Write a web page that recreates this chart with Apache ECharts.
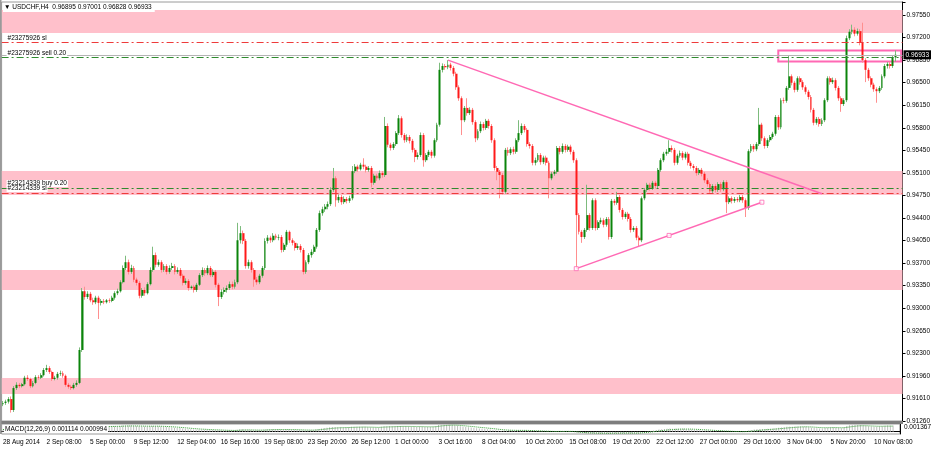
<!DOCTYPE html>
<html>
<head>
<meta charset="utf-8">
<title>USDCHF,H4</title>
<script src="https://cdn.jsdelivr.net/npm/echarts@6/dist/echarts.min.js"></script>
<style>
  html, body { margin: 0; padding: 0; background: #fff; }
  #chart { width: 934px; height: 450px; }
</style>
</head>
<body>
<div id="chart"></div>
<script>
// USDCHF H4 bars, 28 Aug 2014 20:00 .. 11 Nov 2014 12:00
// each bar: [open, close, low, high]
const weekAug28 = [
  [0.9152,0.9154,0.9149,0.9157],[0.9154,0.9156,0.9151,0.9159],[0.9156,0.9160,0.9153,0.9163],[0.9160,0.9143,0.9139,0.9164],
  [0.9143,0.9177,0.9140,0.9180],[0.9177,0.9182,0.9174,0.9186],[0.9182,0.9180,0.9177,0.9185]
]
const weekSep01 = [
  [0.9180,0.9183,0.9178,0.9185],[0.9183,0.9193,0.9181,0.9196],[0.9193,0.9191,0.9188,0.9197],[0.9191,0.9180,0.9177,0.9193],
  [0.9180,0.9185,0.9178,0.9188],[0.9185,0.9194,0.9183,0.9197],[0.9194,0.9193,0.9190,0.9197],[0.9193,0.9197,0.9191,0.9200],
  [0.9197,0.9205,0.9195,0.9208],[0.9205,0.9208,0.9202,0.9213],[0.9208,0.9202,0.9199,0.9211],[0.9202,0.9191,0.9188,0.9204],
  [0.9191,0.9193,0.9189,0.9196],[0.9193,0.9199,0.9190,0.9202],[0.9199,0.9200,0.9196,0.9204],[0.9200,0.9196,0.9193,0.9203],
  [0.9196,0.9182,0.9179,0.9198],[0.9182,0.9179,0.9176,0.9185],[0.9179,0.9177,0.9174,0.9182],[0.9177,0.9182,0.9175,0.9185],
  [0.9182,0.9185,0.9179,0.9189],[0.9185,0.9236,0.9183,0.9240],[0.9236,0.9327,0.9233,0.9332],[0.9327,0.9318,0.9314,0.9334],
  [0.9318,0.9323,0.9315,0.9327],[0.9323,0.9313,0.9310,0.9326],[0.9313,0.9310,0.9306,0.9317],[0.9310,0.9317,0.9307,0.9320],
  [0.9317,0.9309,0.9284,0.9320],[0.9309,0.9312,0.9305,0.9315],[0.9312,0.9310,0.9307,0.9315]
]
const weekSep08 = [
  [0.9310,0.9313,0.9308,0.9315],[0.9313,0.9312,0.9309,0.9316],[0.9312,0.9317,0.9310,0.9320],[0.9317,0.9324,0.9314,0.9327],
  [0.9324,0.9327,0.9321,0.9331],[0.9327,0.9341,0.9325,0.9344],[0.9341,0.9363,0.9339,0.9367],[0.9363,0.9372,0.9360,0.9382],
  [0.9372,0.9357,0.9353,0.9376],[0.9357,0.9363,0.9354,0.9368],[0.9363,0.9345,0.9341,0.9366],[0.9345,0.9340,0.9336,0.9348],
  [0.9340,0.9320,0.9316,0.9343],[0.9320,0.9329,0.9317,0.9332],[0.9329,0.9324,0.9320,0.9333],[0.9324,0.9338,0.9322,0.9341],
  [0.9338,0.9360,0.9336,0.9364],[0.9360,0.9383,0.9357,0.9396],[0.9383,0.9368,0.9364,0.9387],[0.9368,0.9372,0.9365,0.9376],
  [0.9372,0.9360,0.9356,0.9375],[0.9360,0.9366,0.9357,0.9369],[0.9366,0.9357,0.9353,0.9369],[0.9357,0.9363,0.9354,0.9367],
  [0.9363,0.9366,0.9360,0.9371],[0.9366,0.9357,0.9353,0.9369],[0.9357,0.9360,0.9354,0.9364],[0.9360,0.9351,0.9347,0.9363],
  [0.9351,0.9340,0.9336,0.9354],[0.9340,0.9343,0.9337,0.9347],[0.9343,0.9332,0.9328,0.9346]
]
const weekSep15 = [
  [0.9332,0.9334,0.9330,0.9336],[0.9334,0.9329,0.9325,0.9337],[0.9329,0.9337,0.9326,0.9340],[0.9337,0.9352,0.9335,0.9355],
  [0.9352,0.9360,0.9349,0.9364],[0.9360,0.9355,0.9351,0.9363],[0.9355,0.9363,0.9352,0.9367],[0.9363,0.9352,0.9349,0.9366],
  [0.9352,0.9357,0.9349,0.9361],[0.9357,0.9337,0.9333,0.9360],[0.9337,0.9318,0.9304,0.9340],[0.9318,0.9326,0.9315,0.9330],
  [0.9326,0.9329,0.9322,0.9333],[0.9329,0.9332,0.9325,0.9336],[0.9332,0.9338,0.9329,0.9342],[0.9338,0.9334,0.9330,0.9342],
  [0.9334,0.9341,0.9331,0.9345],[0.9341,0.9406,0.9338,0.9433],[0.9406,0.9417,0.9401,0.9428],[0.9417,0.9405,0.9400,0.9421],
  [0.9405,0.9366,0.9362,0.9408],[0.9366,0.9372,0.9362,0.9376],[0.9372,0.9360,0.9356,0.9375],[0.9360,0.9345,0.9334,0.9363],
  [0.9345,0.9341,0.9337,0.9349],[0.9341,0.9351,0.9338,0.9354],[0.9351,0.9363,0.9348,0.9366],[0.9363,0.9405,0.9360,0.9409],
  [0.9405,0.9410,0.9401,0.9414],[0.9410,0.9406,0.9402,0.9413],[0.9406,0.9413,0.9403,0.9417]
]
const weekSep22 = [
  [0.9413,0.9410,0.9407,0.9416],[0.9410,0.9411,0.9406,0.9415],[0.9411,0.9391,0.9387,0.9414],[0.9391,0.9399,0.9388,0.9402],
  [0.9399,0.9419,0.9396,0.9422],[0.9419,0.9406,0.9402,0.9421],[0.9406,0.9402,0.9398,0.9409],[0.9402,0.9394,0.9390,0.9405],
  [0.9394,0.9397,0.9391,0.9401],[0.9397,0.9391,0.9387,0.9400],[0.9391,0.9357,0.9353,0.9394],[0.9357,0.9372,0.9354,0.9375],
  [0.9372,0.9383,0.9369,0.9386],[0.9383,0.9388,0.9379,0.9392],[0.9388,0.9396,0.9385,0.9399],[0.9396,0.9422,0.9393,0.9425],
  [0.9422,0.9448,0.9419,0.9452],[0.9448,0.9454,0.9444,0.9458],[0.9454,0.9458,0.9450,0.9462],[0.9458,0.9462,0.9454,0.9466],
  [0.9462,0.9484,0.9459,0.9488],[0.9484,0.9502,0.9481,0.9518],[0.9502,0.9468,0.9458,0.9505],[0.9468,0.9473,0.9464,0.9477],
  [0.9473,0.9465,0.9461,0.9476],[0.9465,0.9470,0.9462,0.9474],[0.9470,0.9467,0.9463,0.9473],[0.9467,0.9471,0.9464,0.9475],
  [0.9471,0.9513,0.9468,0.9521],[0.9513,0.9520,0.9510,0.9524],[0.9520,0.9516,0.9512,0.9523]
]
const weekSep29 = [
  [0.9516,0.9523,0.9514,0.9526],[0.9523,0.9520,0.9516,0.9533],[0.9520,0.9515,0.9511,0.9523],[0.9515,0.9518,0.9512,0.9521],
  [0.9518,0.9495,0.9488,0.9521],[0.9495,0.9506,0.9492,0.9509],[0.9506,0.9502,0.9498,0.9509],[0.9502,0.9510,0.9499,0.9514],
  [0.9510,0.9507,0.9503,0.9513],[0.9507,0.9583,0.9504,0.9597],[0.9583,0.9554,0.9550,0.9587],[0.9554,0.9549,0.9545,0.9557],
  [0.9549,0.9555,0.9546,0.9558],[0.9555,0.9572,0.9552,0.9575],[0.9572,0.9595,0.9569,0.9600],[0.9595,0.9569,0.9565,0.9598],
  [0.9569,0.9561,0.9557,0.9572],[0.9561,0.9566,0.9558,0.9570],[0.9566,0.9560,0.9556,0.9569],[0.9560,0.9546,0.9542,0.9563],
  [0.9546,0.9535,0.9527,0.9549],[0.9535,0.9538,0.9531,0.9542],[0.9538,0.9569,0.9535,0.9573],[0.9569,0.9530,0.9520,0.9572],
  [0.9530,0.9538,0.9527,0.9541],[0.9538,0.9543,0.9535,0.9546],[0.9543,0.9537,0.9533,0.9546],[0.9537,0.9561,0.9534,0.9564],
  [0.9561,0.9585,0.9558,0.9588],[0.9585,0.9670,0.9582,0.9681],[0.9670,0.9676,0.9666,0.9680]
]
const weekOct06 = [
  [0.9676,0.9674,0.9670,0.9679],[0.9674,0.9678,0.9671,0.9685],[0.9678,0.9673,0.9669,0.9681],[0.9673,0.9664,0.9660,0.9676],
  [0.9664,0.9643,0.9639,0.9667],[0.9643,0.9626,0.9622,0.9646],[0.9626,0.9592,0.9569,0.9629],[0.9592,0.9611,0.9589,0.9614],
  [0.9611,0.9603,0.9599,0.9626],[0.9603,0.9608,0.9600,0.9612],[0.9608,0.9589,0.9585,0.9611],[0.9589,0.9564,0.9558,0.9592],
  [0.9564,0.9575,0.9561,0.9578],[0.9575,0.9586,0.9572,0.9590],[0.9586,0.9580,0.9576,0.9589],[0.9580,0.9591,0.9577,0.9594],
  [0.9591,0.9583,0.9579,0.9594],[0.9583,0.9561,0.9557,0.9586],[0.9561,0.9518,0.9514,0.9564],[0.9518,0.9512,0.9499,0.9521],
  [0.9512,0.9507,0.9471,0.9515],[0.9507,0.9481,0.9477,0.9510],[0.9481,0.9546,0.9478,0.9549],[0.9546,0.9541,0.9537,0.9550],
  [0.9541,0.9547,0.9538,0.9550],[0.9547,0.9543,0.9539,0.9551],[0.9543,0.9561,0.9540,0.9564],[0.9561,0.9572,0.9558,0.9592],
  [0.9572,0.9583,0.9569,0.9587],[0.9583,0.9577,0.9573,0.9586],[0.9577,0.9555,0.9551,0.9580]
]
const weekOct13 = [
  [0.9555,0.9552,0.9548,0.9558],[0.9552,0.9526,0.9522,0.9555],[0.9526,0.9530,0.9522,0.9534],[0.9530,0.9538,0.9527,0.9541],
  [0.9538,0.9527,0.9523,0.9541],[0.9527,0.9534,0.9524,0.9537],[0.9534,0.9526,0.9522,0.9537],[0.9526,0.9502,0.9471,0.9529],
  [0.9502,0.9509,0.9499,0.9512],[0.9509,0.9512,0.9506,0.9515],[0.9512,0.9549,0.9509,0.9552],[0.9549,0.9543,0.9539,0.9552],
  [0.9543,0.9552,0.9540,0.9556],[0.9552,0.9546,0.9542,0.9555],[0.9546,0.9551,0.9543,0.9554],[0.9551,0.9543,0.9539,0.9554],
  [0.9543,0.9530,0.9526,0.9546],[0.9530,0.9445,0.9362,0.9533],[0.9445,0.9419,0.9415,0.9448],[0.9419,0.9411,0.9402,0.9422],
  [0.9411,0.9422,0.9408,0.9425],[0.9422,0.9445,0.9419,0.9492],[0.9445,0.9425,0.9421,0.9448],[0.9425,0.9468,0.9422,0.9471],
  [0.9468,0.9425,0.9421,0.9471],[0.9425,0.9434,0.9422,0.9437],[0.9434,0.9437,0.9431,0.9441],[0.9437,0.9430,0.9426,0.9440],
  [0.9430,0.9439,0.9427,0.9442],[0.9439,0.9411,0.9407,0.9442],[0.9411,0.9467,0.9408,0.9470]
]
const weekOct20 = [
  [0.9467,0.9464,0.9460,0.9470],[0.9464,0.9473,0.9461,0.9481],[0.9473,0.9453,0.9449,0.9476],[0.9453,0.9442,0.9438,0.9456],
  [0.9442,0.9447,0.9439,0.9450],[0.9447,0.9439,0.9435,0.9450],[0.9439,0.9422,0.9418,0.9442],[0.9422,0.9425,0.9419,0.9428],
  [0.9425,0.9410,0.9406,0.9428],[0.9410,0.9406,0.9396,0.9413],[0.9406,0.9471,0.9403,0.9474],[0.9471,0.9484,0.9468,0.9487],
  [0.9484,0.9492,0.9481,0.9495],[0.9492,0.9487,0.9483,0.9495],[0.9487,0.9495,0.9484,0.9498],[0.9495,0.9490,0.9486,0.9498],
  [0.9490,0.9515,0.9487,0.9518],[0.9515,0.9530,0.9512,0.9533],[0.9530,0.9540,0.9527,0.9543],[0.9540,0.9543,0.9537,0.9547],
  [0.9543,0.9549,0.9540,0.9561],[0.9549,0.9546,0.9542,0.9553],[0.9546,0.9526,0.9522,0.9549],[0.9526,0.9537,0.9523,0.9540],
  [0.9537,0.9541,0.9534,0.9545],[0.9541,0.9534,0.9530,0.9544],[0.9534,0.9540,0.9531,0.9543],[0.9540,0.9526,0.9522,0.9543],
  [0.9526,0.9521,0.9517,0.9529],[0.9521,0.9518,0.9514,0.9524],[0.9518,0.9510,0.9506,0.9521]
]
const weekOct27 = [
  [0.9510,0.9515,0.9507,0.9518],[0.9515,0.9509,0.9505,0.9518],[0.9509,0.9499,0.9495,0.9512],[0.9499,0.9493,0.9489,0.9502],
  [0.9493,0.9482,0.9478,0.9496],[0.9482,0.9490,0.9479,0.9493],[0.9490,0.9484,0.9480,0.9493],[0.9484,0.9493,0.9481,0.9496],
  [0.9493,0.9485,0.9481,0.9496],[0.9485,0.9496,0.9482,0.9499],[0.9496,0.9465,0.9448,0.9499],[0.9465,0.9471,0.9462,0.9474],
  [0.9471,0.9467,0.9463,0.9474],[0.9467,0.9470,0.9464,0.9473],[0.9470,0.9468,0.9465,0.9473],[0.9468,0.9473,0.9465,0.9476],
  [0.9473,0.9468,0.9464,0.9476],[0.9468,0.9456,0.9442,0.9471],[0.9456,0.9544,0.9453,0.9547],[0.9544,0.9552,0.9541,0.9555],
  [0.9552,0.9547,0.9543,0.9555],[0.9547,0.9555,0.9544,0.9558],[0.9555,0.9585,0.9552,0.9611],[0.9585,0.9564,0.9560,0.9588],
  [0.9564,0.9552,0.9548,0.9567],[0.9552,0.9561,0.9549,0.9564],[0.9561,0.9566,0.9558,0.9569],[0.9566,0.9571,0.9563,0.9574],
  [0.9571,0.9597,0.9568,0.9600],[0.9597,0.9581,0.9577,0.9600],[0.9581,0.9623,0.9578,0.9626]
]
const weekNov03 = [
  [0.9623,0.9622,0.9618,0.9627],[0.9622,0.9642,0.9619,0.9645],[0.9642,0.9660,0.9639,0.9693],[0.9660,0.9650,0.9646,0.9663],
  [0.9650,0.9639,0.9635,0.9653],[0.9639,0.9657,0.9636,0.9660],[0.9657,0.9651,0.9647,0.9660],[0.9651,0.9643,0.9639,0.9654],
  [0.9643,0.9636,0.9632,0.9646],[0.9636,0.9628,0.9624,0.9639],[0.9628,0.9608,0.9604,0.9631],[0.9608,0.9588,0.9584,0.9611],
  [0.9588,0.9594,0.9585,0.9597],[0.9594,0.9586,0.9582,0.9597],[0.9586,0.9592,0.9583,0.9595],[0.9592,0.9623,0.9589,0.9626],
  [0.9623,0.9657,0.9620,0.9660],[0.9657,0.9651,0.9647,0.9660],[0.9651,0.9654,0.9648,0.9658],[0.9654,0.9642,0.9638,0.9657],
  [0.9642,0.9626,0.9622,0.9645],[0.9626,0.9617,0.9605,0.9629],[0.9617,0.9623,0.9614,0.9626],[0.9623,0.9719,0.9620,0.9723],
  [0.9719,0.9729,0.9716,0.9733],[0.9729,0.9732,0.9725,0.9740],[0.9732,0.9726,0.9722,0.9736],[0.9726,0.9730,0.9723,0.9734],
  [0.9730,0.9712,0.9708,0.9733],[0.9712,0.9685,0.9681,0.9743],[0.9685,0.9670,0.9651,0.9688]
]
const weekNov10 = [
  [0.9670,0.9657,0.9653,0.9673],[0.9657,0.9647,0.9643,0.9660],[0.9647,0.9640,0.9636,0.9650],[0.9640,0.9637,0.9619,0.9643],
  [0.9637,0.9642,0.9634,0.9645],[0.9642,0.9660,0.9639,0.9663],[0.9660,0.9676,0.9657,0.9679],[0.9676,0.9679,0.9672,0.9682],
  [0.9679,0.9676,0.9672,0.9682],[0.9676,0.96895,0.9673,0.9692],[0.96895,0.96933,0.96828,0.97001]
]

// MACD(12,26,9) main and signal, in units of 0.00001, one per bar
const macdMain = [
  35,36,37,33,38,40,41,
  42,43,44,44,45,46,47,48,50,50,49,48,48,47,46,44,42,40,38,37,36,
  45,75,90,98,100,101,102,100,99,98,
  98,97,97,98,99,103,108,112,110,108,104,100,95,93,92,94,98,102,100,
  96,92,88,85,80,76,72,68,64,58,52,46,
  42,38,36,35,36,34,33,32,30,30,26,22,20,19,20,22,22,34,42,44,40,36,32,28,26,26,28,36,42,45,46,
  45,44,40,38,40,38,36,34,32,30,24,22,24,28,32,40,50,58,64,70,78,84,82,80,78,76,74,80,86,88,88,
  88,87,86,80,76,74,72,72,90,98,96,95,95,97,102,100,98,96,94,90,86,85,90,86,84,84,83,88,96,120,130,
  128,128,126,122,116,108,96,90,84,80,74,66,60,56,52,50,46,40,32,26,20,14,16,18,20,20,22,24,26,24,20,
  17,12,10,9,8,7,6,2,0,2,6,7,8,9,9,8,6,-8,-18,-26,-30,-30,-30,-28,-30,-30,-30,-29,-28,-30,-26,
  -24,-22,-22,-22,-22,-22,-24,-26,-28,-20,-10,-2,6,10,14,22,30,38,44,50,54,56,54,54,54,52,52,48,44,40,36,
  32,28,24,20,16,12,10,8,6,6,2,-2,-2,-3,-3,-3,-3,-4,10,22,30,38,48,50,50,50,51,52,58,60,70,
  74,80,88,90,90,92,92,92,90,86,80,72,66,60,56,58,66,72,74,74,70,64,60,80,100,114,120,122,122,118,110,
  104,98,92,88,88,92,98,104,108,110,111.4
]
const macdSignal = [
  40,40,40,39,39,39,40,
  40,40,41,41,41,42,42,43,43,44,44,45,45,45,45,45,45,44,44,43,42,
  43,47,53,59,65,72,77,82,85,88,
  90,92,93,94,95,96,98,100,101,102,102,102,101,100,99,98,98,98,98,
  98,97,95,93,91,88,85,82,78,74,70,65,
  61,57,53,49,46,44,41,39,37,35,33,31,29,27,25,24,23,24,27,30,31,32,32,31,30,29,29,30,32,34,36,
  38,39,39,39,39,39,38,38,37,35,33,31,30,29,29,31,35,39,44,49,55,60,64,68,70,72,73,74,76,78,80,
  81,82,83,82,81,80,78,77,79,82,84,86,87,89,91,93,94,94,94,93,92,91,91,90,89,88,87,87,89,95,102,
  107,111,114,116,116,115,111,107,103,98,94,89,84,79,74,70,65,60,55,50,44,39,34,31,28,26,25,24,24,24,24,
  23,21,19,17,15,13,11,9,7,6,5,5,6,6,6,6,6,3,-2,-7,-12,-16,-19,-21,-23,-24,-25,-26,-26,-27,-27,
  -26,-25,-25,-24,-24,-23,-23,-24,-24,-24,-22,-18,-14,-10,-5,0,6,12,18,24,30,35,39,42,44,46,47,47,47,46,44,
  42,40,37,34,31,28,25,22,19,17,14,11,9,7,5,4,2,1,3,6,10,15,20,25,30,34,38,41,45,48,52,
  56,61,66,70,74,78,81,84,86,87,86,84,81,78,74,72,71,71,72,73,73,72,70,71,77,84,91,97,102,105,106,
  106,104,102,100,98,97,97,98,99,99,99.4
]

// time axis labels, one every 16 bars
const timeLabels = [
  '28 Aug 2014', '2 Sep 08:00', '5 Sep 00:00', '9 Sep 12:00', '12 Sep 04:00', '16 Sep 16:00',
  '19 Sep 08:00', '23 Sep 20:00', '26 Sep 12:00', '1 Oct 00:00', '3 Oct 16:00', '8 Oct 04:00',
  '10 Oct 20:00', '15 Oct 08:00', '19 Oct 20:00', '22 Oct 12:00', '27 Oct 00:00', '29 Oct 16:00',
  '3 Nov 04:00', '5 Nov 20:00', '10 Nov 08:00'
]
// price scale labels, bottom to top
const priceTicks = [
  '0.91260', '0.91610', '0.91960', '0.92300', '0.92650', '0.93000', '0.93350', '0.93700', '0.94050', '0.94400',
  '0.94750', '0.95100', '0.95450', '0.95800', '0.96150', '0.96500', '0.96850', '0.97200', '0.97550'
]
const priceMin = 0.9126
const priceMax = 0.97751
const priceStep = 0.0034944
const macdMin = -0.0004
const macdMax = 0.001367

// objects drawn on the chart
const zoneBands = [[0.97627, 0.97271], [0.95134, 0.94762], [0.93601, 0.93291], [0.91928, 0.91680]]
const orderNames = ['#23275926 sl', '#23275926 sell 0.20', '#23214339 buy 0.20', '#23214339 sl']
const orderPrices = [0.97121, 0.96890, 0.94870, 0.94793]
const orderKinds = ['sl', 'trade', 'trade', 'sl']
const trendDown = [[163, 0.9685], [300, 0.9478]]
const trendUp = [[210, 0.9362], [278, 0.9465]]
const trendUpAnchors = [[210, 0.9362], [244, 0.94135], [278, 0.9465]]
const rangeBox = [[284, 0.97001], [329, 0.96828]]

const FONT = '"Liberation Sans", Arial, sans-serif'
const PINK = '#ff69b4'
const DASH_DOT = [7, 3, 2, 3]

const candles = [].concat(weekAug28, weekSep01, weekSep08, weekSep15, weekSep22, weekSep29,
  weekOct06, weekOct13, weekOct20, weekOct27, weekNov03, weekNov10)
// MT4 keeps a small gap right of the last bar
const categories = Array.from({ length: candles.length + 2 }, (_, i) => String(i))
const bodies = candles.map(([o, c]) => [o, c, Math.min(o, c), Math.max(o, c)])
const last = candles[candles.length - 1]

const priceLabel = v => {
  const k = Math.round((v - priceMin) / priceStep)
  return Math.abs(priceMin + k * priceStep - v) < 1e-7 ? (priceTicks[k] || '') : ''
}

const levelLines = orderPrices.map((p, i) => ({
  yAxis: p,
  lineStyle: { color: orderKinds[i] === 'sl' ? '#ee3b3b' : '#2e8b2e', type: DASH_DOT, width: 1 },
  label: {
    show: true, position: 'insideStartTop', formatter: orderNames[i], distance: [5, 1],
    fontSize: 6.5, fontFamily: FONT, color: '#000', backgroundColor: '#fff', padding: [0, 1]
  }
}))
const bidLine = {
  yAxis: last[1],
  lineStyle: { color: '#b4b4b4', type: 'solid', width: 1 },
  label: {
    show: true, position: 'end', formatter: last[1].toFixed(5), distance: 1,
    fontSize: 6.5, fontFamily: FONT, color: '#fff', backgroundColor: '#000', padding: [1, 2]
  }
}
const trendLine = pts => [
  { coord: pts[0], lineStyle: { color: PINK, type: 'solid', width: 1.5 }, label: { show: false } },
  { coord: pts[1] }
]

const chart = echarts.init(document.getElementById('chart'))
chart.setOption({
  animation: false,
  backgroundColor: '#fff',
  textStyle: { fontFamily: FONT },
  grid: [
    { left: 1.6, right: 31.5, top: 2, bottom: 29, show: true, borderColor: '#9a9a9a', borderWidth: 1 },
    { left: 1.6, right: 31.5, top: 424, height: 10, show: true, borderColor: '#9a9a9a', borderWidth: 1 }
  ],
  xAxis: [
    { type: 'category', gridIndex: 0, data: categories, boundaryGap: true, show: false },
    {
      type: 'category', gridIndex: 1, data: categories, boundaryGap: true,
      axisLine: { lineStyle: { color: '#000' } },
      axisTick: { interval: 15, alignWithLabel: true, length: 3, lineStyle: { color: '#000' } },
      axisLabel: {
        interval: 15, align: 'left', fontSize: 6.5, color: '#000', margin: 5,
        formatter: (v, i) => timeLabels[i / 16] || ''
      }
    }
  ],
  yAxis: [
    {
      type: 'value', gridIndex: 0, position: 'right', min: priceMin, max: priceMax, interval: priceStep,
      axisLine: { show: true, lineStyle: { color: '#000' } },
      axisTick: { show: true, length: 3, lineStyle: { color: '#000' } },
      splitLine: { show: false },
      axisLabel: { fontSize: 6.5, color: '#000', margin: 4, formatter: priceLabel }
    },
    {
      type: 'value', gridIndex: 1, position: 'right', min: macdMin, max: macdMax,
      axisLine: { show: true, lineStyle: { color: '#000' } },
      axisTick: { show: false },
      splitLine: { show: false },
      axisLabel: {
        showMaxLabel: true, showMinLabel: false, fontSize: 6.5, color: '#000', margin: 4, verticalAlign: 'top',
        formatter: v => (v >= macdMax - 1e-9 ? v.toFixed(6) : '')
      }
    }
  ],
  graphic: [
    {
      type: 'text', left: 3, top: 3, z: 100,
      style: {
        // header order is open, high, low, close
        text: '\u25BC USDCHF,H4  ' + [last[0], last[3], last[2], last[1]].map(v => v.toFixed(5)).join(' '),
        fontSize: 6.5, fontFamily: FONT, fill: '#000', backgroundColor: '#fff', padding: [1, 3, 1, 1]
      }
    },
    {
      type: 'rect', left: 0, top: 421, z: 100,
      shape: { width: 903, height: 3 }, style: { fill: '#7d7d7d' }
    },
    {
      type: 'rect', left: 0, top: 0, z: 100,
      shape: { width: 1.5, height: 434 }, style: { fill: '#9a9a9a' }
    },
    {
      type: 'text', left: 4, top: 425.5, z: 100,
      style: {
        text: 'MACD(12,26,9) ' + (macdMain[macdMain.length - 1] * 1e-5).toFixed(6) + ' ' +
          (macdSignal[macdSignal.length - 1] * 1e-5).toFixed(6),
        fontSize: 6.5, fontFamily: FONT, fill: '#000', backgroundColor: '#fff', padding: [0, 1]
      }
    }
  ],
  series: [
    {
      name: 'wicks', type: 'candlestick', xAxisIndex: 0, yAxisIndex: 0, data: candles, barWidth: 1, z: 2,
      itemStyle: { color: '#7dbb7d', color0: '#ff8f8f', borderColor: '#7dbb7d', borderColor0: '#ff8f8f', borderWidth: 1 },
      markArea: {
        silent: true,
        data: zoneBands.map(([a, b]) => [{ yAxis: a, itemStyle: { color: '#ffc0cb' } }, { yAxis: b }])
          .concat([[{ coord: rangeBox[0], itemStyle: { color: 'rgba(0,0,0,0)', borderColor: PINK, borderWidth: 2 } },
            { coord: rangeBox[1] }]])
      },
      markLine: {
        silent: true, symbol: ['none', 'none'], precision: 5, label: { show: false },
        data: levelLines.concat([bidLine, trendLine(trendDown), trendLine(trendUp)])
      }
    },
    {
      name: 'bodies', type: 'candlestick', xAxisIndex: 0, yAxisIndex: 0, data: bodies, barWidth: 2.4, z: 3,
      itemStyle: { color: '#0b840b', color0: '#ff1a1a', borderColor: '#0b840b', borderColor0: '#ff1a1a', borderWidth: 0 }
    },
    {
      name: 'anchors', type: 'scatter', xAxisIndex: 0, yAxisIndex: 0, data: trendUpAnchors, z: 6,
      symbol: 'rect', symbolSize: 4, silent: true,
      itemStyle: { color: '#fff', borderColor: PINK, borderWidth: 1 }
    },
    {
      name: 'MACD', type: 'bar', xAxisIndex: 1, yAxisIndex: 1, barWidth: 1, silent: true,
      data: macdMain.map(v => v * 1e-5), itemStyle: { color: '#bdbdbd' }
    },
    {
      name: 'Signal', type: 'line', xAxisIndex: 1, yAxisIndex: 1, symbol: 'none', silent: true,
      data: macdSignal.map(v => v * 1e-5), lineStyle: { color: '#2e9a2e', width: 1, type: 'dotted' }
    }
  ]
})
</script>
</body>
</html>
